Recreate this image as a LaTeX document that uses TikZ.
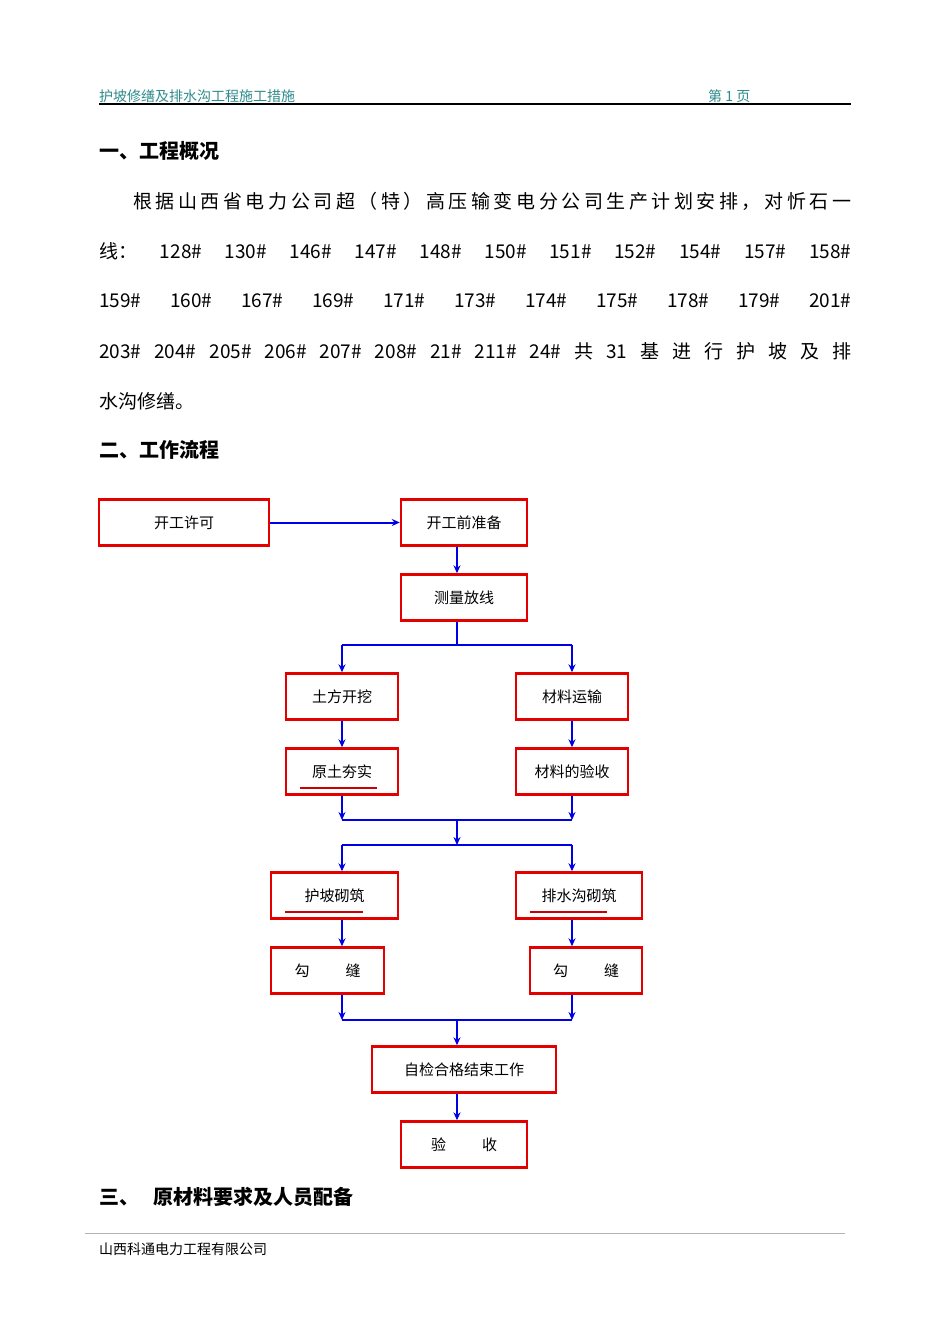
\documentclass[tikz,border=0pt]{standalone}
\usepackage{fontspec}
\setmainfont{Noto Sans CJK SC}
\newfontfamily\cjk{Noto Sans CJK SC}
\usetikzlibrary{arrows.meta}
\definecolor{hdr}{HTML}{2E8B8B}
\newcommand{\jline}[2]{\hbox to #1{\spaceskip=0pt plus 1fil\relax #2}}
\begin{document}
\begin{tikzpicture}[x=1pt,y=-1pt,
  bx/.style={draw=red!90!black,line width=2.4pt,minimum height=46pt,inner sep=0pt,font=\fontsize{15}{15}\selectfont},
  ar/.style={draw=blue!90!black,line width=2pt,-{Stealth[length=8pt,width=7pt]}},
  ln/.style={draw=blue!90!black,line width=2pt},
  ul/.style={draw=red!80!black,line width=1.2pt},
  body/.style={anchor=west,inner sep=0pt,font=\fontsize{19}{19}\selectfont},
  head/.style={anchor=west,inner sep=0pt,font=\fontsize{20}{20}\selectfont\bfseries}]
\useasboundingbox (0,0) rectangle (950,1344);
\fill[white] (0,0) rectangle (950,1344);
% header
\node[anchor=west,inner sep=0pt,text=hdr,font=\fontsize{14}{14}\selectfont] (h1) at (99,96) {护坡修缮及排水沟工程施工措施};
\node[anchor=west,inner sep=0pt,text=hdr,font=\fontsize{14}{14}\selectfont] (h2) at (708,96) {第 1 页};
\draw[line width=1.5pt] (99,104) -- (851,104);
\node[head] (t1) at (99,151) {一、工程概况};
\node[body] (l1) at (133,201) {\jline{718pt}{根 据 山 西 省 电 力 公 司 超 （ 特 ） 高 压 输 变 电 分 公 司 生 产 计 划 安 排 ， 对 忻 石 一}};
\node[body] (l2) at (99,251) {\jline{752pt}{线： 128\# 130\# 146\# 147\# 148\# 150\# 151\# 152\# 154\# 157\# 158\#}};
\node[body] (l3) at (99,301) {\jline{752pt}{159\# 160\# 167\# 169\# 171\# 173\# 174\# 175\# 178\# 179\# 201\#}};
\node[body] (l4) at (99,351) {\jline{752pt}{203\# 204\# 205\# 206\# 207\# 208\# 21\# 211\# 24\# 共 31 基 进 行 护 坡 及 排}};
\node[body] (l5) at (99,401) {水沟修缮。};
\node[head] (t2) at (99,450) {二、工作流程};
% boxes
\node[bx,minimum width=170pt] (A) at (184,522.5) {开工许可};
\node[bx,minimum width=126pt] (B) at (464,522.5) {开工前准备};
\node[bx,minimum width=126pt] (C) at (464,597.5) {测量放线};
\node[bx,minimum width=112pt] (D) at (342,696.5) {土方开挖};
\node[bx,minimum width=112pt] (E) at (572,696.5) {材料运输};
\node[bx,minimum width=112pt] (F) at (342,771.5) {原土夯实};
\node[bx,minimum width=112pt] (G) at (572,771.5) {材料的验收};
\node[bx,minimum width=127pt] (H) at (334.5,895.5) {护坡砌筑};
\node[bx,minimum width=126pt] (I) at (579,895.5) {排水沟砌筑};
\node[bx,minimum width=113pt] (J) at (327.5,970.5) {勾\hspace{36pt}缝};
\node[bx,minimum width=112pt] (K) at (586,970.5) {勾\hspace{36pt}缝};
\node[bx,minimum width=184pt] (L) at (464,1069.5) {自检合格结束工作};
\node[bx,minimum width=126pt] (M) at (464,1144.5) {验\hspace{36pt}收};
% underlines
\draw[ul] (300,788) -- (377,788);
\draw[ul] (285,912) -- (363,912);
\draw[ul] (530,912) -- (607,912);
% coordinates
\coordinate (s1) at (457,645);
\coordinate (s1l) at (342,645); \coordinate (s1r) at (572,645);
\coordinate (m1l) at (342,820); \coordinate (m1r) at (572,820); \coordinate (m1) at (457,820);
\coordinate (s2) at (457,845); \coordinate (s2l) at (342,845); \coordinate (s2r) at (572,845);
\coordinate (m2l) at (342,1020); \coordinate (m2r) at (572,1020); \coordinate (m2) at (457,1020);
% connectors
\draw[ar] (A.east) -- (B.west);
\draw[ar] (B.south -| s1) -- (C.north -| s1);
\draw[ln] (C.south -| s1) -- (s1);
\draw[ln] (s1l) -- (s1r);
\draw[ar] (s1l) -- (D.north -| s1l);
\draw[ar] (s1r) -- (E.north -| s1r);
\draw[ar] (D.south -| s1l) -- (F.north -| s1l);
\draw[ar] (E.south -| s1r) -- (G.north -| s1r);
\draw[ar] (F.south -| s1l) -- (m1l);
\draw[ar] (G.south -| s1r) -- (m1r);
\draw[ln] (m1l) -- (m1r);
\draw[ar] (m1) -- (s2);
\draw[ln] (s2l) -- (s2r);
\draw[ar] (s2l) -- (H.north -| s2l);
\draw[ar] (s2r) -- (I.north -| s2r);
\draw[ar] (H.south -| s2l) -- (J.north -| s2l);
\draw[ar] (I.south -| s2r) -- (K.north -| s2r);
\draw[ar] (J.south -| s2l) -- (m2l);
\draw[ar] (K.south -| s2r) -- (m2r);
\draw[ln] (m2l) -- (m2r);
\draw[ar] (m2) -- (L.north -| m2);
\draw[ar] (L.south -| m2) -- (M.north -| m2);
\node[head] (t3) at (99,1197) {三、\hspace{14pt}原材料要求及人员配备};
\draw[gray!60,line width=0.8pt] (85,1233) -- (845,1233);
\node[anchor=west,inner sep=0pt,font=\fontsize{14}{14}\selectfont] (f1) at (99,1249) {山西科通电力工程有限公司};
\end{tikzpicture}
\end{document}
